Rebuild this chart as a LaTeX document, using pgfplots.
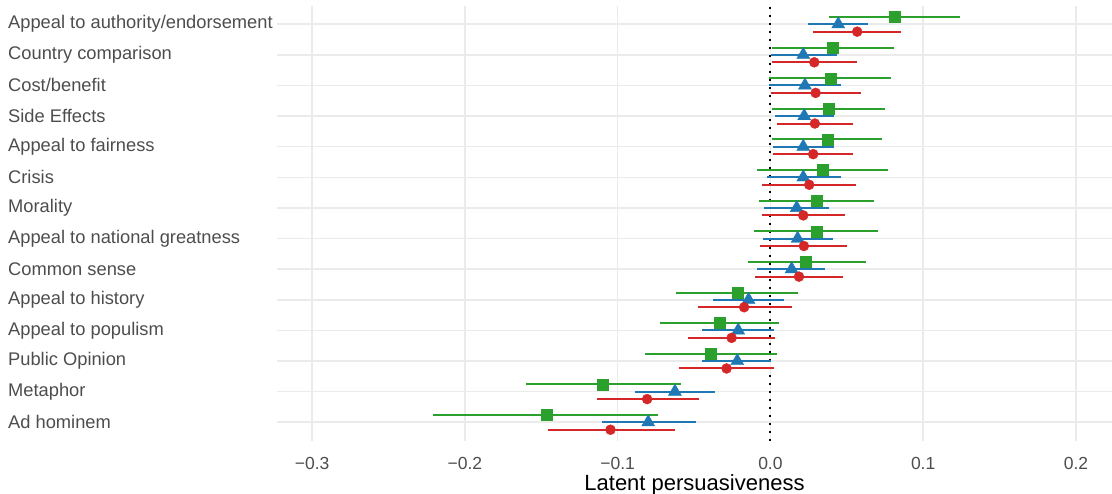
\documentclass[border=0pt]{standalone}
\usepackage{fontspec}
\setmainfont{Liberation Sans}
\usepackage{pgfplots}
\pgfplotsset{compat=1.18}
\usepackage{pgfplotstable}
\definecolor{cgreen}{HTML}{2CA02C}
\definecolor{cblue}{HTML}{1F77B4}
\definecolor{cred}{HTML}{D62728}
\definecolor{gridc}{HTML}{EBEBEB}
\definecolor{axtext}{HTML}{4D4D4D}

\pgfplotstableread{
y x lo hi
14 0.0812 0.0385 0.1240
13 0.0405 0.0008 0.0807
12 0.0392 -0.0008 0.0787
11 0.0379 0.0008 0.0752
10 0.0372 0.0008 0.0730
9 0.0339 -0.0087 0.0771
8 0.0300 -0.0077 0.0680
7 0.0300 -0.0106 0.0706
6 0.0234 -0.0150 0.0625
5 -0.0217 -0.0621 0.0182
4 -0.0329 -0.0722 0.0058
3 -0.0388 -0.0820 0.0043
2 -0.1095 -0.1601 -0.0588
1 -0.1466 -0.2208 -0.0735
}\greentab

\pgfplotstableread{
y x lo hi
14 0.0444 0.0248 0.0640
13 0.0215 0.0001 0.0433
12 0.0226 -0.0008 0.0460
11 0.0221 0.0030 0.0418
10 0.0215 0.0014 0.0416
9 0.0215 -0.0025 0.0460
8 0.0172 -0.0040 0.0385
7 0.0178 -0.0047 0.0409
6 0.0139 -0.0087 0.0359
5 -0.0143 -0.0379 0.0090
4 -0.0211 -0.0447 0.0023
3 -0.0217 -0.0447 0.0003
2 -0.0625 -0.0887 -0.0361
1 -0.0800 -0.1103 -0.0488
}\bluetab

\pgfplotstableread{
y x lo hi
14 0.0568 0.0280 0.0853
13 0.0287 0.0012 0.0565
12 0.0296 0.0001 0.0590
11 0.0291 0.0040 0.0542
10 0.0280 0.0019 0.0542
9 0.0254 -0.0054 0.0560
8 0.0215 -0.0054 0.0486
7 0.0219 -0.0069 0.0503
6 0.0187 -0.0102 0.0477
5 -0.0172 -0.0475 0.0139
4 -0.0254 -0.0540 0.0031
3 -0.0287 -0.0597 0.0023
2 -0.0807 -0.1138 -0.0468
1 -0.1047 -0.1459 -0.0627
}\redtab

\begin{document}
\begin{tikzpicture}
\path[use as bounding box] (-277pt,-52.6pt) rectangle (835pt,440.6pt);
\begin{axis}[
  at={(0pt,0pt)}, anchor=south west,
  width=835pt, height=434.8pt, scale only axis,
  xmin=-0.323, xmax=0.2236, ymin=0.4, ymax=14.6,
  axis line style={draw=none},
  major tick length=0pt,
  xtick={-0.3,-0.2,-0.1,0,0.1,0.2},
  xticklabels={−0.3,−0.2,−0.1,0.0,0.1,0.2},
  ytick={1,...,14},
  yticklabels={Ad hominem, Metaphor, Public Opinion, Appeal to populism, Appeal to history, Common sense, Appeal to national greatness, Morality, Crisis, Appeal to fairness, Side Effects, Cost/benefit, Country comparison, Appeal to authority/endorsement},
  grid=major,
  major grid style={draw=gridc, line width=1.5pt},
  xticklabel style={anchor=north, inner sep=0pt, yshift=-16pt, text=axtext, font=\fontsize{17.5}{20}\selectfont},
  yticklabel style={anchor=west, inner sep=0pt, xshift=-269pt, text=axtext, font=\fontsize{18.3}{21}\selectfont},
  xlabel={Latent persuasiveness},
  xlabel style={at={(axis description cs:0.5,0)}, anchor=north, inner sep=0pt, yshift=-34pt, font=\fontsize{22}{24}\selectfont},
  clip=false,
]
\addplot[black, line width=2pt, dash pattern=on 2pt off 6pt] coordinates {(0,0.4) (0,14.6)};
\addplot[cgreen, only marks, mark=square*, mark size=5.5pt,
  error bars/.cd, x dir=both, x explicit, error mark=none,
  error bar style={line width=2pt, cgreen}]
  table[x=x, y expr=\thisrow{y}+0.235, x error plus expr=\thisrow{hi}-\thisrow{x}, x error minus expr=\thisrow{x}-\thisrow{lo}] {\greentab};
\addplot[cblue, only marks, mark=triangle*, mark size=7.5pt,
  error bars/.cd, x dir=both, x explicit, error mark=none,
  error bar style={line width=2pt, cblue}]
  table[x=x, y=y, x error plus expr=\thisrow{hi}-\thisrow{x}, x error minus expr=\thisrow{x}-\thisrow{lo}] {\bluetab};
\addplot[cred, only marks, mark=*, mark size=5pt,
  error bars/.cd, x dir=both, x explicit, error mark=none,
  error bar style={line width=2pt, cred}]
  table[x=x, y expr=\thisrow{y}-0.245, x error plus expr=\thisrow{hi}-\thisrow{x}, x error minus expr=\thisrow{x}-\thisrow{lo}] {\redtab};
\end{axis}
\end{tikzpicture}
\end{document}
